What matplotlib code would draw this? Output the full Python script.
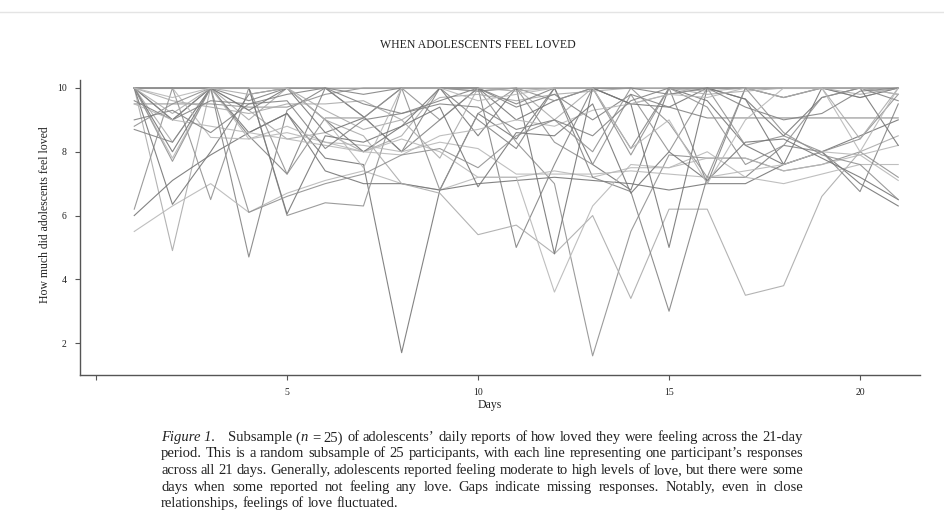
import numpy as np
import matplotlib.pyplot as plt

nan = np.nan
days = np.arange(1, 22)

# one row per participant (days 1..21)
s01 = [10, 9.0, 10, 8.6, 9.2, 7.8, 7.6, 1.7, 6.8, 9.2, 8.4, 10, 7.6, 6.8, 10, 9.6, 8.2, 7.6, 8.0, 7.0, 6.3]
s02 = [9.5, 9.5, 9.5, 9.4, 9.4, 9.8, 10, 10, 9.0, 10, 8.3, 7.0, 1.6, 5.5, 7.9, 7.8, 7.8, 7.4, 7.6, 8.0, 7.2]
s03 = [10, 4.9, 10, 9.3, 8.4, 8.6, 8.0, 8.5, 10, 9.9, 10, 9.0, 10, 9.5, 9.8, 10, 10, 9.7, 10, 9.7, 10]
s04 = [10, 9.0, 10, 4.7, 9.3, 10, 9.1, 8.0, 9.0, 10, 5.0, 7.6, 10, 8.1, 10, 7.0, 10, 9.7, 10, 10, 10]
s05 = [5.5, 6.3, 7.0, 6.1, 6.7, 7.1, 7.4, 7.0, 6.8, 7.2, 7.2, 7.4, 7.2, 7.5, 7.5, 7.8, 7.8, 7.4, 7.6, 7.9, 7.1]
s06 = [6.0, 7.1, 7.9, 8.6, 9.2, 7.4, 7.0, 7.0, 6.8, 7.0, 7.1, 7.2, 7.1, 7.0, 6.8, 7.0, 7.0, 7.6, 8.0, 8.5, 9.0]
s07 = [6.2, 10, 6.5, 10, 6.0, 6.4, 6.3, 10, 10, 9.9, 10, 8.3, 7.6, 9.8, 8.0, 10, 8.2, 8.5, 8.0, 8.4, 9.8]
s08 = [10, 8.3, 10, 9.0, 10, 9.0, 8.5, 7.0, 6.7, 5.4, 5.7, 4.8, 6.0, 3.4, 6.2, 6.2, 3.5, 3.8, 6.6, 8.0, 8.5]
s09 = [8.7, 8.3, 10, 8.5, 7.3, 10, 9.1, 8.0, 10, 9.0, 8.1, 10, 7.2, 6.75, 3.0, 7.2, 7.2, 8.2, 8.0, 6.75, 9.5]
s10 = [10, 7.8, 10, 8.4, 8.8, 8.3, 8.0, 8.4, 8.0, 7.2, 7.2, 3.6, 6.3, 7.6, 7.5, 8.0, 7.2, 7.0, 7.3, 7.6, 7.6]
s11 = [10, 6.35, 8.0, 9.8, 10, 8.6, 9.06, 10, 10, 10, 9.0, 9.6, 10, 9.5, 9.4, 10, 9.65, 7.6, 10, 9.7, 10]
s12 = [10, 10, 10, 10, 10, 10, 10, 10, 10, 10, 10, 10, 10, 10, 10, 10, 10, 10, 10, 10, 10]
s13 = [10, 9.6, 9.4, 9.2, 9.5, 9.5, 9.6, 9.0, 9.7, 9.8, 9.6, 9.8, 9.9, 10, 10, 9.9, 10, 10, 10, 9.8, 10]
s14 = [9.6, 9.0, 9.6, 9.5, 9.8, 10, 9.5, 9.2, 9.6, 10, 9.4, 9.8, 9.0, 9.8, 9.4, 9.06, 9.06, 9.06, 9.06, 9.06, 9.06]
s15 = [10, 10, 8.45, 8.4, 8.6, 8.3, 8.2, 8.0, 8.3, 8.1, 7.3, 7.3, 7.3, 7.4, 7.3, 7.2, 7.4, 7.6, 8.0, 7.9, 8.2]
s16 = [10, 10, 10, 9.3, 10, 9.0, 8.0, 8.8, 10, 8.5, 10, 4.8, 10, 9.5, 5.0, 10, 9.65, 8.5, 9.7, 10, 8.2]
s17 = [8.8, 9.5, 10, 10, 7.3, 9.06, 9.06, 10, 6.8, 9.2, 10, 9.6, 10, 7.9, 10, 9.4, 7.6, 8.2, 9.7, 10, 9.8]
s18 = [10, 10, 10, 10, 10, 10, 10, 10, 10, 10, 10, 10, 10, 10, 10, 10, 10, 9.7, 10, 8.4, 10]
s19 = [10, 10, 10, 9.6, 10, 10, 9.8, 10, 10, 10, 9.5, 10, 10, 10, 9.8, 10, 10, 10, 10, 10, 9.6]
s20 = [9.5, 9.0, 8.8, 8.6, 8.4, 8.2, 8.0, 7.9, 8.5, 8.7, 9.0, 8.8, 9.3, 9.5, 9.8, 9.7, 10, 10, 10, 10, 9.8]
s21 = [10, 8.0, 10, 10, 6.05, 8.5, 8.3, 8.8, 9.4, 6.9, 8.6, 8.5, 9.5, 6.7, 8.0, 7.1, 8.3, 8.4, 7.8, 7.2, 6.5]
s22 = [10, 7.7, 10, 6.1, 6.6, 7.0, 7.3, 7.9, 8.1, 7.5, 8.5, 9.0, 8.0, 10, 8.9, 7.2, 10, 8.6, 7.9, 7.6, 6.5]
s23 = [10, 9.2, 10, 9.8, 10, 9.3, 8.7, 9.0, 7.8, 10, 9.9, 10, nan, nan, 10, 9.8, 9.9, 10, 10, 10, 10]
s24 = [9.0, 9.3, 8.6, 9.5, 9.6, 8.1, 9.0, 9.2, 9.5, 9.4, 8.7, 9.0, 8.5, 9.6, 10, 10, 9.4, 9.0, 9.2, 9.9, 10]
s25 = [10, 9.7, 10, 10, 10, 9.0, 7.5, 10, 10, 9.6, 9.8, 10, 10, 8.1, 9.0, 7.0, 9.0, 10, 10, 8.0, 10]

participants = [s01, s02, s03, s04, s05, s06, s07, s08, s09, s10, s11, s12, s13,
                s14, s15, s16, s17, s18, s19, s20, s21, s22, s23, s24, s25]

yticks = [2, 4, 6, 8, 10]
xticks = [0, 5, 10, 15, 20]
xticklabels = ['', '5', '10', '15', '20']

title = 'WHEN ADOLESCENTS FEEL LOVED'
ylab = 'How much did adolescents feel loved'
xlab = 'Days'

# caption: lines of words, each word a list of (text, italic) runs
caption = [
    [[('Figure 1.', True)], [('Subsample', False)], [('(', False), ('n', True)], [('=', False)],
     [('25)', False)], [('of', False)], [('adolescents\u2019', False)], [('daily', False)],
     [('reports', False)], [('of', False)], [('how', False)], [('loved', False)], [('they', False)],
     [('were', False)], [('feeling', False)], [('across', False)], [('the', False)], [('21-day', False)]],
    'period. This is a random subsample of 25 participants, with each line representing one participant\u2019s responses',
    'across all 21 days. Generally, adolescents reported feeling moderate to high levels of love, but there were some',
    'days when some reported not feeling any love. Gaps indicate missing responses. Notably, even in close',
    'relationships, feelings of love fluctuated.',
]

W, H = 944, 514
fig = plt.figure(figsize=(W / 100, H / 100), dpi=100)
serif = 'Liberation Serif'

ax = fig.add_axes([80 / W, 1 - 375 / H, 840 / W, 295 / H])
greys = ['#767676', '#919191', '#ababab', '#838383', '#b8b8b8']
for i, vals in enumerate(participants):
    ax.plot(days, vals, color=greys[i % len(greys)], lw=0.8, alpha=0.9)

ax.set_xlim(-0.42, 21.57)
ax.set_ylim(1.0, 10.25)
for side in ['top', 'right']:
    ax.spines[side].set_visible(False)
for side in ['left', 'bottom']:
    ax.spines[side].set_color('#555555')
    ax.spines[side].set_linewidth(1.0)
ax.set_xticks(xticks)
ax.set_xticklabels(xticklabels)
ax.set_yticks(yticks)
ax.tick_params(direction='out', length=3.5, width=0.8, colors='#555555',
               labelsize=7, labelcolor='#222222', pad=6)
for lab in ax.get_xticklabels() + ax.get_yticklabels():
    lab.set_fontfamily(serif)

fig.text(478 / W, 1 - 45 / H, title, ha='center', va='center', family=serif,
         fontsize=8.5, color='#222222')
fig.text(45 / W, 1 - 215 / H, ylab, ha='center', va='center', rotation=90,
         family=serif, fontsize=8.5, color='#222222')
fig.text(490 / W, 1 - 405 / H, xlab, ha='center', va='center', family=serif,
         fontsize=8.5, color='#222222')

# faint scan border at the top
fig.add_artist(plt.Line2D([0, 1], [1 - 12 / H, 1 - 12 / H], color='#e4e4e4', lw=1))

# justified caption
fig.canvas.draw()
renderer = fig.canvas.get_renderer()
left, right = 161, 803
line_y = [437, 453, 470, 487, 503]


def run_width(txt, italic, size):
    t = fig.text(0, 0, txt, family=serif, fontsize=size,
                 style='italic' if italic else 'normal')
    w = t.get_window_extent(renderer).width
    t.remove()
    return w


# pick the size so the second line fits the column with ordinary spacing
cap_size = 10 * (right - left) / run_width(caption[1], False, 10)
space = run_width('a b', False, cap_size) - run_width('ab', False, cap_size)
base_off = cap_size * 100 / 72 * 0.3  # baseline sits a bit below the line centre

for li, line in enumerate(caption):
    if isinstance(line, str):
        words = [[(w, False)] for w in line.split()]
    else:
        words = line
    widths = [sum(run_width(t, it, cap_size) for t, it in w) for w in words]
    extra = [2.5 * space if w[0][0] == 'Figure 1.' else 0 for w in words]
    if li == len(caption) - 1:
        gap = space
    else:
        gap = (right - left - sum(widths) - sum(extra)) / (len(words) - 1)
    yb = 1 - (line_y[li] + base_off) / H
    x = left
    for w, wd, ex in zip(words, widths, extra):
        xx = x
        for t, it in w:
            fig.text(xx / W, yb, t, family=serif, fontsize=cap_size,
                     style='italic' if it else 'normal', va='baseline', ha='left',
                     color='#222222')
            xx += run_width(t, it, cap_size)
        x += wd + gap + ex

fig.savefig('out.png', dpi=100, facecolor='white')
